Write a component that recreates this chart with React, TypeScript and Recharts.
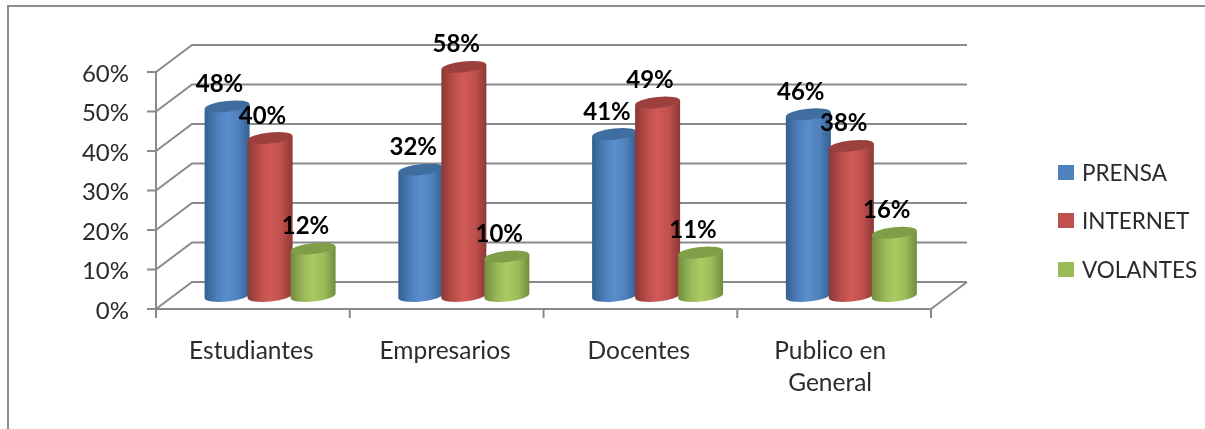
import { BarChart, Bar, XAxis, YAxis, CartesianGrid, Legend, LabelList } from "recharts";

const categories = ["Estudiantes", "Empresarios", "Docentes", "Publico en General"];
const prensa = [48, 32, 41, 46];
const internet = [40, 58, 49, 38];
const volantes = [12, 10, 11, 16];
const yTicks = [0, 10, 20, 30, 40, 50, 60];

const data = categories.map((name, i) => ({
  name,
  PRENSA: prensa[i],
  INTERNET: internet[i],
  VOLANTES: volantes[i],
}));

const WIDTH = 1205;
const HEIGHT = 429;
const PLOT_LEFT = 156;
const PLOT_RIGHT = 931;
const PLOT_TOP = 72;
const PLOT_BOTTOM = 309;
const BAND = (PLOT_RIGHT - PLOT_LEFT) / categories.length;
// depth of the fake 3d box
const DEPTH_X = 36;
const DEPTH_Y = 27;
// bars stand a bit inside the floor
const BAR_DX = 17.6;
const BAR_DY = -13;
const TILT = 6;
const RY = 5.5;
const LINE = "#8a8a8a";
const FONT = "Lato, sans-serif";

const SERIES = [
  { key: "PRENSA", fill: "#4f81bd", mid: "#5a8dcc", edge: "#33608f", top: "#3f6d9f" },
  { key: "INTERNET", fill: "#c0504d", mid: "#d05a57", edge: "#8c3836", top: "#9c403d" },
  { key: "VOLANTES", fill: "#9bbb59", mid: "#a8cb60", edge: "#728c3e", top: "#7f9e48" },
];

function Cylinder(props: any) {
  const { x, y, width, height, index, gradient, top } = props;
  if (height == null) return null;
  const left = x + BAR_DX;
  const rx = width / 2;
  const yTop = y + BAR_DY;
  const yBottom = y + height + BAR_DY;
  const sl = rx * Math.sin((TILT * Math.PI) / 180);
  const d = `M${left},${yTop + sl} L${left},${yBottom + sl} A${rx},${RY} ${-TILT} 0 0 ${left + width},${yBottom - sl} L${left + width},${yTop - sl} Z`;
  return (
    <g key={index}>
      <path d={d} fill={`url(#${gradient})`} />
      <ellipse
        cx={left + rx}
        cy={yTop}
        rx={rx}
        ry={RY}
        fill={top}
        transform={`rotate(${-TILT} ${left + rx} ${yTop})`}
      />
    </g>
  );
}

function DataLabel(props: any) {
  const { x, y, width, value } = props;
  return (
    <text
      x={x + width / 2 + 10}
      y={y - 27.5}
      textAnchor="middle"
      fontFamily={FONT}
      fontSize={24}
      fontWeight={700}
      fill="#000"
    >
      {value}%
    </text>
  );
}

function GridLine(props: any) {
  const { x1, x2, y1, index } = props;
  const pts = `${x1},${y1} ${x1 + DEPTH_X},${y1 - DEPTH_Y} ${x2 + DEPTH_X},${y1 - DEPTH_Y}`;
  const isFloor = Math.abs(y1 - PLOT_BOTTOM) < 1;
  return (
    <g key={index}>
      <polyline points={pts} fill="none" stroke={LINE} strokeWidth={2} />
      {isFloor && (
        <line x1={x2} y1={y1} x2={x2 + DEPTH_X} y2={y1 - DEPTH_Y} stroke={LINE} strokeWidth={2} />
      )}
    </g>
  );
}

function CategoryTick(props: any) {
  const { x, y, payload, index } = props;
  const words: string[] = payload.value === "Publico en General" ? ["Publico en", "General"] : [payload.value];
  const last = index === categories.length - 1;
  return (
    <g>
      <line x1={x - BAND / 2} y1={PLOT_BOTTOM} x2={x - BAND / 2} y2={PLOT_BOTTOM + 9} stroke={LINE} strokeWidth={2} />
      {last && (
        <line x1={x + BAND / 2} y1={PLOT_BOTTOM} x2={x + BAND / 2} y2={PLOT_BOTTOM + 9} stroke={LINE} strokeWidth={2} />
      )}
      {words.map((w, i) => (
        <text
          key={w}
          x={x - (last ? 4 : 1.5)}
          y={y + 42 + i * 32}
          textAnchor="middle"
          fontFamily={FONT}
          fontSize={24.5}
          fill="#2b2b2b"
        >
          {w}
        </text>
      ))}
    </g>
  );
}

function LegendBox(props: any) {
  const { payload } = props;
  return (
    <div style={{ fontFamily: FONT, fontSize: 22.5, color: "#2b2b2b" }}>
      {payload.map((p: any) => (
        <div key={p.value} style={{ display: "flex", alignItems: "center", height: 48.5 }}>
          <span style={{ width: 16, height: 15, background: p.color, marginRight: 8 }} />
          <span>{p.value}</span>
        </div>
      ))}
    </div>
  );
}

export default function App() {
  return (
    <div style={{ position: "absolute", left: 0, top: 0, width: WIDTH, height: HEIGHT, overflow: "hidden", background: "#fff" }}>
      <div
        style={{
          position: "absolute",
          left: 7,
          top: 5,
          right: 0,
          bottom: 0,
          borderLeft: "2px solid #8c8c8c",
          borderTop: "2px solid #8c8c8c",
        }}
      />
      <div style={{ position: "absolute", left: 0, top: 0, filter: "blur(0.4px)" }}>
        <BarChart
          width={WIDTH}
          height={HEIGHT}
          data={data}
          barSize={45}
          barGap={-2}
          margin={{ top: PLOT_TOP, right: WIDTH - PLOT_RIGHT, bottom: HEIGHT - PLOT_BOTTOM - 80, left: PLOT_LEFT - 70 }}
        >
          <defs>
            {SERIES.map((s) => (
              <linearGradient key={s.key} id={`cyl-${s.key}`} x1="0" y1="0" x2="1" y2="0">
                <stop offset="0%" stopColor={s.edge} />
                <stop offset="30%" stopColor={s.fill} />
                <stop offset="50%" stopColor={s.mid} />
                <stop offset="75%" stopColor={s.fill} />
                <stop offset="100%" stopColor={s.edge} />
              </linearGradient>
            ))}
          </defs>
          <CartesianGrid horizontal={GridLine} vertical={false} />
          <XAxis
            dataKey="name"
            height={80}
            interval={0}
            axisLine={{ stroke: LINE, strokeWidth: 2 }}
            tickLine={false}
            tick={CategoryTick}
          />
          <YAxis
            width={70}
            domain={[0, 60]}
            ticks={yTicks}
            tickFormatter={(v) => `${v}%`}
            axisLine={{ stroke: LINE, strokeWidth: 2 }}
            tickLine={{ stroke: LINE, strokeWidth: 2 }}
            tickSize={9}
            tickMargin={18}
            tick={{ fontFamily: FONT, fontSize: 24, fill: "#2b2b2b", dy: 1 }}
          />
          <Legend
            layout="horizontal"
            verticalAlign="middle"
            align="center"
            itemSorter={null}
            content={LegendBox}
            wrapperStyle={{ left: 1058, top: 148, width: 147, bottom: "auto" }}
          />
          {SERIES.map((s) => (
            <Bar
              key={s.key}
              dataKey={s.key}
              name={s.key}
              fill={s.fill}
              isAnimationActive={false}
              shape={(p: any) => <Cylinder {...p} gradient={`cyl-${s.key}`} top={s.top} />}
            >
              <LabelList dataKey={s.key} content={DataLabel} />
            </Bar>
          ))}
        </BarChart>
      </div>
    </div>
  );
}
